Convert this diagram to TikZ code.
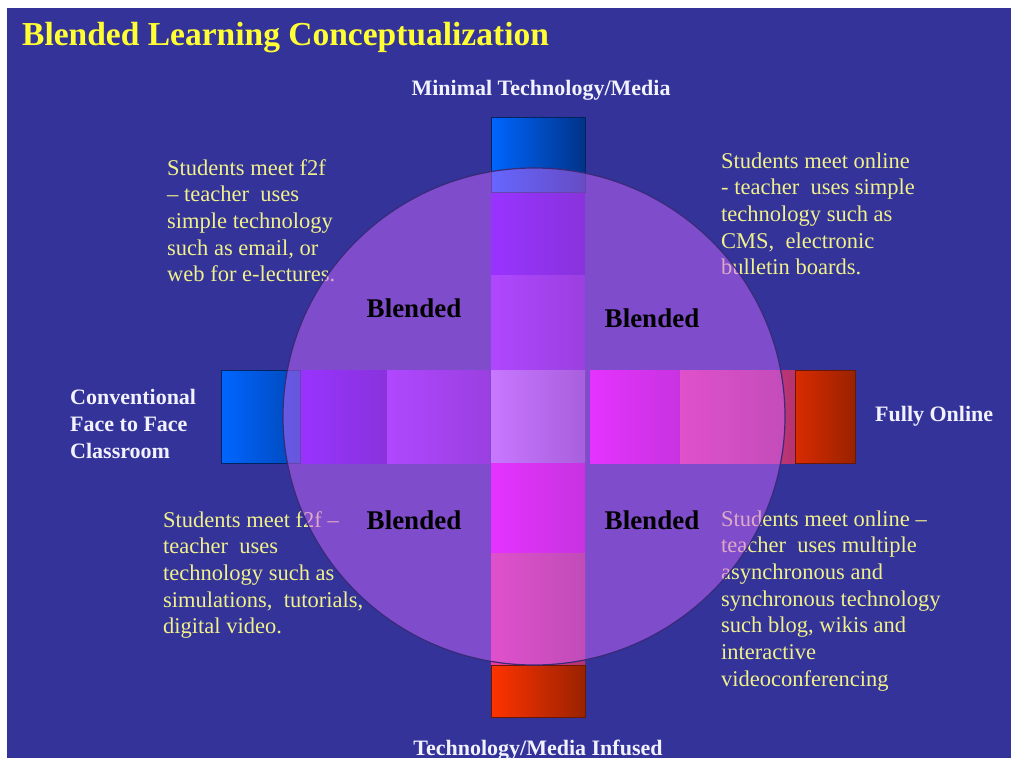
\documentclass[tikz,border=0pt]{standalone}
\usepackage{fontspec}
\setmainfont{Liberation Serif}
\definecolor{bg}{HTML}{333399}
\definecolor{ttl}{HTML}{FFFF33}
\definecolor{ytxt}{HTML}{F0F08C}
\definecolor{wtxt}{HTML}{F2F2FF}
\definecolor{circ}{rgb}{0.8,0.4,1.0}
\definecolor{circedge}{HTML}{3A2A7A}
\definecolor{blueL}{HTML}{0066FF}
\definecolor{blueR}{HTML}{003388}
\definecolor{redL}{HTML}{FF3300}
\definecolor{redR}{HTML}{992200}
\definecolor{purL}{rgb}{0.40,0.00,1.00}
\definecolor{purR}{rgb}{0.27,0.00,0.73}
\definecolor{lpurL}{rgb}{0.58,0.16,1.00}
\definecolor{lpurR}{rgb}{0.41,0.10,0.76}
\definecolor{cenL}{rgb}{0.77,0.54,1.00}
\definecolor{cenR}{rgb}{0.52,0.35,0.73}
\definecolor{magL}{rgb}{1.00,0.00,1.00}
\definecolor{magR}{rgb}{0.77,0.00,0.76}
\definecolor{pnkL}{rgb}{0.96,0.23,0.60}
\definecolor{pnkR}{rgb}{0.71,0.20,0.44}
\begin{document}
\begin{tikzpicture}[x=1pt,y=-1pt,
  ttlstyle/.style={inner sep=0pt, anchor=base west, text=ttl, font=\bfseries\fontsize{33.5}{40}\selectfont},
  axislabel/.style={inner sep=0pt, text=wtxt, font=\bfseries\fontsize{22}{27}\selectfont},
  desc/.style={inner sep=0pt, anchor=base west, align=left, text=ytxt, font=\fontsize{22.5}{26.7}\selectfont},
  blend/.style={inner sep=0pt, anchor=base, text=black, font=\bfseries\fontsize{27}{32}\selectfont},
  seg/.style 2 args={left color=#1, right color=#2, draw=none}
]
\useasboundingbox (0,0) rectangle (1011,758);
\fill[white] (0,0) rectangle (1011,758);
\fill[bg] (7,8) rectangle (1011,758);

% title
\node[ttlstyle] (title) at (22,45) {Blended Learning Conceptualization};

% descriptive texts (behind the circle); anchors at the last line's baseline
\node[desc] (tl) at (167,281.8) {Students meet f2f\\– teacher\ \ uses\\simple technology\\such as email, or\\web for e-lectures.};
\node[desc] (tr) at (721,274.8) {Students meet online\\- teacher\ \ uses simple\\technology such as\\CMS,\ \ electronic\\bulletin boards.};
\node[desc] (bl) at (163,633.8) {Students meet f2f –\\teacher\ \ uses\\technology such as\\simulations,\ \ tutorials,\\digital video.};
\node[desc] (br) at (721,686.2) {Students meet online –\\teacher\ \ uses multiple\\asynchronous and\\synchronous technology\\such blog, wikis and\\interactive\\videoconferencing};

% horizontal bar
\shade[seg={blueL}{blueR!60!blueL}] (221,370) rectangle (300,463);
\shade[seg={purL}{purR}] (300,370) rectangle (387,463);
\shade[seg={lpurL}{lpurR}] (387,370) rectangle (490,463);
\shade[seg={magL}{magR}] (590,370) rectangle (680,463);
\shade[seg={pnkL}{pnkR}] (680,370) rectangle (795,463);
\shade[seg={redL!85!black}{redR}] (795,370) rectangle (855,463);
% vertical bar
\shade[seg={blueL}{blueR}] (491,117) rectangle (585,192);
\shade[seg={purL}{purR}] (491,192) rectangle (585,275);
\shade[seg={lpurL}{lpurR}] (491,275) rectangle (585,370);
\shade[seg={cenL}{cenR}] (491,370) rectangle (585,463);
\shade[seg={magL}{magR}] (491,463) rectangle (585,553);
\shade[seg={pnkL}{pnkR}] (491,553) rectangle (585,665);
\shade[seg={redL}{redR}] (491,665) rectangle (585,717);
\draw[blueR!70!black, line width=0.8] (491,117) rectangle (585,192);
\draw[blueR!70!black, line width=0.8] (221,370) rectangle (300,463);
\draw[redR!70!black, line width=0.8] (491,665) rectangle (585,717);
\draw[redR!70!black, line width=0.8] (795,370) rectangle (855,463);

% translucent circle
\draw[circedge, line width=1.2, fill=circ, fill opacity=0.5] (534,416.5) ellipse [x radius=251pt, y radius=248.5pt];

% Blended labels
\node[blend] (b1) at (414,317) {Blended};
\node[blend] (b2) at (652,327) {Blended};
\node[blend] (b3) at (414,529) {Blended};
\node[blend] (b4) at (652,529) {Blended};

% axis labels
\node[axislabel, anchor=base] (top) at (541,95) {Minimal Technology/Media};
\node[axislabel, anchor=base west, align=left] (left) at (70,458) {Conventional\\Face to Face\\Classroom};
\node[axislabel, anchor=base west] (right) at (875,421) {Fully Online};
\node[axislabel, anchor=base] (bottom) at (538,755) {Technology/Media Infused};
\end{tikzpicture}
\end{document}
